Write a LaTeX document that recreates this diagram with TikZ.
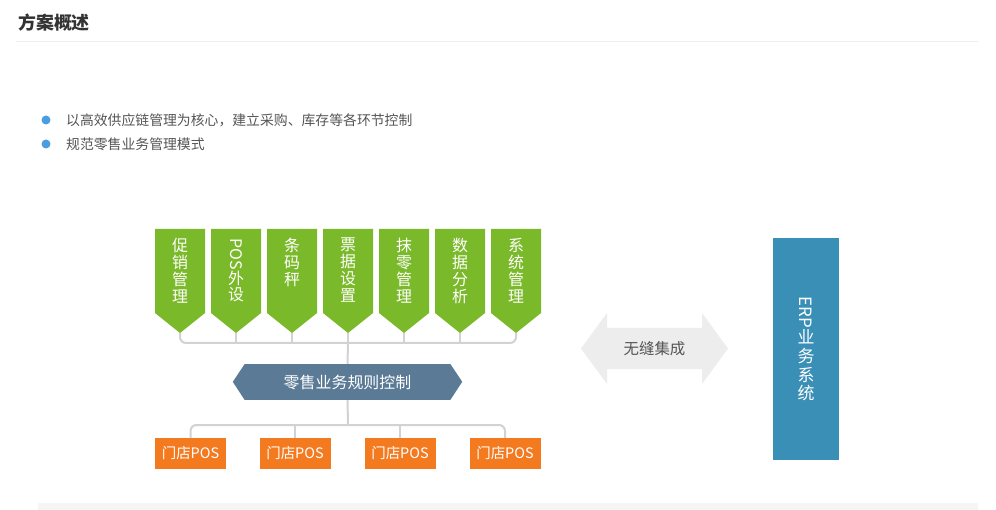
\documentclass[tikz,border=0pt]{standalone}
\usepackage{fontspec}
\setmainfont{Noto Sans CJK SC}
\usepackage{graphicx}
\definecolor{leafgreen}{HTML}{7AB929}
\definecolor{ruleblue}{HTML}{5A7A96}
\definecolor{posorange}{HTML}{F47A20}
\definecolor{erpblue}{HTML}{3A8FB7}
\definecolor{linegray}{HTML}{D2D2D2}
\definecolor{seamgray}{HTML}{EDEDED}
\definecolor{dotblue}{HTML}{4A9EE0}
\definecolor{textgray}{HTML}{555555}

\begin{document}
\begin{tikzpicture}[x=1bp, y=-1bp,
  every node/.style={inner sep=0pt},
  vtext/.style={anchor=north, align=center, text=white, font=\fontsize{16}{17}\selectfont},
  posbox/.style={fill=posorange, text=white, minimum width=71bp, minimum height=31bp, font=\fontsize{14.5}{14}\selectfont},
  link/.style={draw=linegray, line width=2bp, rounded corners=6bp}]
  \useasboundingbox (0,0) rectangle (996,510);
  \fill[white] (0,0) rectangle (996,510);

  % heading and bullets
  \node[anchor=west, text=black!80, font=\fontsize{18}{18}\selectfont\bfseries] (title) at (18,23) {方案概述};
  \draw[black!7, line width=1bp] (16,42) -- (978,42);
  \fill[dotblue] (46,120) circle (4.5);
  \fill[dotblue] (46,144) circle (4.5);
  \node[anchor=west, text=textgray, font=\fontsize{13.9}{14}\selectfont] (b1) at (66,120) {以高效供应链管理为核心，建立采购、库存等各环节控制};
  \node[anchor=west, text=textgray, font=\fontsize{13.9}{14}\selectfont] (b2) at (66,144) {规范零售业务管理模式};

  % function tags
  \foreach \lab [count=\i] in {{促\\销\\管\\理},{\rotatebox{-90}{POS}\\外\\设},{条\\码\\秤},{票\\据\\设\\置},{抹\\零\\管\\理},{数\\据\\分\\析},{系\\统\\管\\理}} {
    \pgfmathsetmacro{\cx}{124+56*\i}
    \fill[leafgreen] (\cx-25,229) -- (\cx+25,229) -- (\cx+25,313) -- (\cx,333) -- (\cx-25,313) -- cycle;
    \coordinate (tip\i) at (\cx,333);
    \node[vtext] (tag\i) at (\cx,238) {\lab};
  }

  % rule control
  \node[fill=ruleblue, text=white, minimum width=205bp, minimum height=36bp, font=\fontsize{16}{16}\selectfont] (rule) at (347.5,382) {零售业务规则控制};
  \fill[ruleblue] (rule.north west) -- ++(-12,18) -- (rule.south west) -- cycle;
  \fill[ruleblue] (rule.north east) -- ++(12,18) -- (rule.south east) -- cycle;

  \coordinate (bar) at (348,343);
  \draw[link] (tip1) |- (bar) -| (tip7);
  \foreach \i in {2,...,6} \draw[link] (tip\i) -- (tip\i |- bar);
  \draw[link] (bar) -- (rule.north);

  % stores
  \node[posbox] (pos1) at (190.5,453.5) {门店POS};
  \node[posbox] (pos2) at (295,453.5) {门店POS};
  \node[posbox] (pos3) at (400,453.5) {门店POS};
  \node[posbox] (pos4) at (505,453.5) {门店POS};
  \coordinate (fork) at (348,425);
  \draw[link] (rule.south) -- (fork);
  \draw[link] (pos1.north) |- (fork) -| (pos4.north);
  \draw[link] (pos2.north) -- (pos2.north |- fork);
  \draw[link] (pos3.north) -- (pos3.north |- fork);

  % integration arrow
  \fill[seamgray] (581,348.5) -- (607,313) -- (607,328) -- (702,328) -- (702,313) -- (728,348.5)
    -- (702,384) -- (702,369) -- (607,369) -- (607,384) -- cycle;
  \node[text=textgray, font=\fontsize{15.5}{15}\selectfont] (seam) at (654.5,349) {无缝集成};

  % erp
  \node[fill=erpblue, text=white, minimum width=66bp, minimum height=222bp, align=center,
    font=\fontsize{17}{19}\selectfont] (erp) at (806,349) {\rotatebox{-90}{ERP}\\业\\务\\系\\统};

  \fill[black!4] (38,503) rectangle (978,510);
\end{tikzpicture}
\end{document}
